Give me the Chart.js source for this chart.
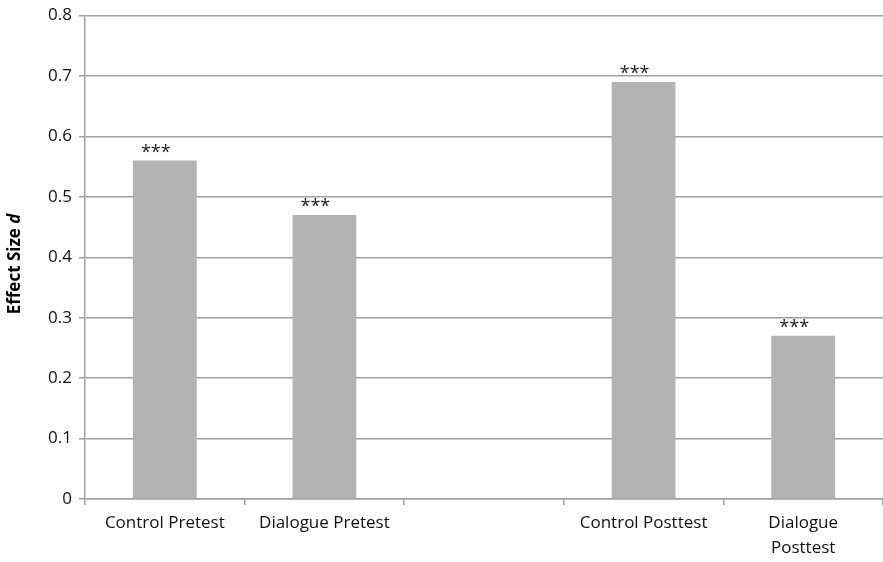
<!DOCTYPE html>
<html>
<head>
<meta charset="utf-8">
<script src="https://cdn.jsdelivr.net/npm/chart.js@4"></script>
<style>
  html, body { margin:0; padding:0; background:#fff; }
  #wrap { width:883px; height:562px; }
</style>
</head>
<body>
<div id="wrap"><canvas id="c" width="883" height="562"></canvas></div>
<script>
const categories = [["Control Pretest"], ["Dialogue Pretest"], [""], ["Control Posttest"], ["Dialogue", "Posttest"]];
const effectSizes = [0.56, 0.47, null, 0.69, 0.27];
const sigMarks = ["***", "***", "", "***", "***"];
const yTicks = [0, 0.1, 0.2, 0.3, 0.4, 0.5, 0.6, 0.7, 0.8];

const FONT = "'Open Sans', 'DejaVu Sans', sans-serif";
const GRID = "#a0a0a0";

// asterisks above bars, sitting a little left of centre like the original
const starsPlugin = {
  id:"stars",
  afterDatasetsDraw(chart){
    const ctx = chart.ctx;
    const meta = chart.getDatasetMeta(0);
    ctx.save();
    ctx.fillStyle = "#222";
    ctx.font = "18px " + FONT;
    ctx.textAlign = "center";
    ctx.textBaseline = "alphabetic";
    meta.data.forEach((bar, i) => {
      if(!sigMarks[i] || effectSizes[i] == null) return;
      ctx.fillText(sigMarks[i], bar.x - 9, bar.y - 3);
    });
    ctx.restore();
  }
};

// y title with italic d
const yTitlePlugin = {
  id:"ytitle",
  afterDraw(chart){
    const ctx = chart.ctx;
    ctx.save();
    ctx.translate(15, 264);
    ctx.rotate(-Math.PI / 2);
    ctx.fillStyle = "#000";
    ctx.textBaseline = "middle";
    const p1 = "Effect Size ", p2 = "d";
    ctx.font = "bold 17px " + FONT;
    const w1 = ctx.measureText(p1).width;
    ctx.font = "italic bold 17px " + FONT;
    const w2 = ctx.measureText(p2).width;
    const x = -(w1 + w2) / 2;
    ctx.textAlign = "left";
    ctx.font = "bold 17px " + FONT;
    ctx.fillText(p1, x, 0);
    ctx.font = "italic bold 17px " + FONT;
    ctx.fillText(p2, x + w1, 0);
    ctx.restore();
  }
};

new Chart(document.getElementById("c"), {
  type:"bar",
  data:{
    labels:categories,
    datasets:[{
      data:effectSizes,
      backgroundColor:"#b3b3b3",
      borderWidth:0,
      categoryPercentage:1,
      barPercentage:0.4
    }]
  },
  options:{
    responsive:false,
    animation:false,
    layout:{ padding:{ top:3, right:0, left:0, bottom:0 } },
    plugins:{ legend:{ display:false }, tooltip:{ enabled:false } },
    scales:{
      x:{
        offset:true,
        grid:{ offset:true, drawOnChartArea:false, drawTicks:true, tickLength:6, color:GRID, lineWidth:1.5 },
        border:{ color:GRID, width:1.5 },
        ticks:{ color:"#111", font:{ family:FONT, size:17, lineHeight:1.45 }, maxRotation:0, autoSkip:false, padding:6 },
        afterFit(s){ s.height = 63; }
      },
      y:{
        min:0, max:0.8,
        afterBuildTicks(s){ s.ticks = yTicks.map(v => ({ value:v })); },
        grid:{ color:GRID, lineWidth:1.5, tickLength:6 },
        border:{ color:GRID, width:1.5 },
        ticks:{ color:"#111", font:{ family:FONT, size:17, lineHeight:1 }, padding:7,
          callback:v => String(Math.round(v * 10) / 10) },
        afterFit(s){ s.width = 85; }
      }
    }
  },
  plugins:[starsPlugin, yTitlePlugin]
});
</script>
</body>
</html>
